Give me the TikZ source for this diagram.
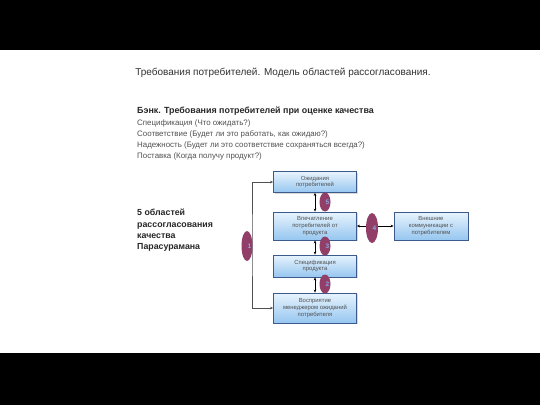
\documentclass[tikz,border=0pt]{standalone}
\usepackage{fontspec}
\setmainfont{Liberation Sans}
\usetikzlibrary{positioning,shadows,arrows.meta,shapes.geometric}
\definecolor{rand}{RGB}{60,90,140}
\definecolor{boxtop}{RGB}{232,244,253}
\definecolor{boxbot}{RGB}{150,198,240}
\definecolor{lila}{RGB}{145,62,105}
\definecolor{ziffer}{RGB}{140,165,225}
\definecolor{grau}{RGB}{80,80,80}

\begin{document}
\begin{tikzpicture}[x=1pt,y=-1pt]
    \tikzset{blok/.style={draw=rand,line width=0.8pt,top color=boxtop,bottom color=boxbot,
      minimum width=83pt,inner sep=1pt,align=center,text=grau,
      font=\fontsize{5.9}{6.9}\selectfont,
      drop shadow={shadow xshift=1.2pt,shadow yshift=-1.2pt,opacity=0.3}},
    oval/.style={ellipse,fill=lila,minimum width=11pt,minimum height=19pt,inner sep=0pt},
    nr/.style={label={[ziffer,xshift=2.5pt,font=\bfseries\fontsize{6.5}{6.5}\selectfont]center:#1}},
    pfeil/.style={{Stealth[length=3pt,width=2.6pt]}-{Stealth[length=3pt,width=2.6pt]},line width=0.6pt}}
\useasboundingbox (0,0) rectangle (540,405);
\fill[black] (0,0) rectangle (540,50);
\fill[black] (0,353) rectangle (540,405);

\node[text=grau!60!black,font=\fontsize{10}{12}\selectfont] (titel) at (283,73)
  {Требования потребителей. Модель областей рассогласования.};
\node[anchor=west,inner sep=0pt,font=\bfseries\fontsize{8.9}{10}\selectfont,text=black!85] (bank) at (137,111)
  {Бэнк. Требования потребителей при оценке качества};
\node[anchor=north west,inner sep=0pt,align=left,text=grau,font=\fontsize{7.9}{11}\selectfont]
  (liste) at ([yshift=-4pt]bank.south west)
  {Спецификация (Что ожидать?)\\
   Соответствие (Будет ли это работать, как ожидаю?)\\
   Надежность (Будет ли это соответствие сохраняться всегда?)\\
   Поставка (Когда получу продукт?)};
\node[anchor=north west,inner sep=0pt,align=left,text=black!85,font=\bfseries\fontsize{8.8}{11.3}\selectfont]
  (gebiete) at (137,209) {5 областей\\рассогласования\\качества\\Парасурамана};

% die Kaestchen
\node[blok,minimum height=21pt] (ozh) at (315,182) {Ожидания\\потребителей};
\node[blok,minimum height=28pt] (vpech) at (315,226) {Впечатление\\потребителей от\\продукта};
\node[blok,minimum height=22pt] (spec) at (315,266) {Спецификация\\продукта};
\node[blok,minimum height=30pt] (vospr) at (315,308) {Восприятие\\менеджером ожиданий\\потребителя};
\node[blok,minimum width=74pt,minimum height=28pt] (vnesh) at (431,226) {Внешние\\коммуникации с\\потребителем};

\coordinate (knick) at (252,245);
\draw[pfeil,grau] (ozh.west) -| (knick) |- (vospr.west);
\draw[pfeil] (ozh.south) -- (vpech.north);
\draw[pfeil] (vpech.south) -- (spec.north);
\draw[pfeil] (spec.south) -- (vospr.north);
\draw[pfeil] (vpech.east) -- (vnesh.west);

\node[oval,nr=5] (g5) at (325,202) {};
\node[oval,nr=3] (g3) at (325,246) {};
\node[oval,nr=2] (g2) at (325,284) {};
\node[oval,nr=1,minimum height=30pt] (g1) at (247,246) {};
\node[oval,nr=4,minimum height=30pt,minimum width=12pt] (g4) at (372,228) {};
\end{tikzpicture}
\end{document}
